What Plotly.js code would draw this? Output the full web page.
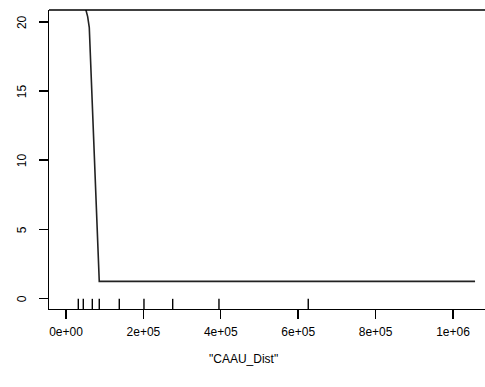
<!DOCTYPE html>
<html>
<head>
<meta charset="utf-8">
<script src="https://cdn.plot.ly/plotly-3.0.1.min.js"></script>
<style>html,body{margin:0;padding:0;background:#fff;}#chart{width:485px;height:387px;}</style>
</head>
<body>
<div id="chart"></div>
<script>
// Partial dependence curve
const caauDist = [0, 21000, 42000, 51700, 56000, 60200, 62800, 67200, 76500, 86000, 200000, 400000, 600000, 800000, 1057000];
const fitted   = [26.5, 23.8, 21.9, 20.9, 20.4, 19.6, 17.8, 15.4, 8.3, 1.22, 1.22, 1.22, 1.22, 1.22, 1.22];
// Rug (deciles of CAAU_Dist)
const rugDeciles = [31800, 44700, 68000, 86000, 137700, 201500, 275700, 395300, 626000];
// Axis ticks
const xTickVals = [0, 200000, 400000, 600000, 800000, 1000000];
const xTickText = ["0e+00", "2e+05", "4e+05", "6e+05", "8e+05", "1e+06"];
const yTickVals = [0, 5, 10, 15, 20];
const yTickText = ["0", "5", "10", "15", "20"];
const xTitle = '"CAAU_Dist"';

const font = {family: 'Liberation Sans, Arial, sans-serif', size: 12, color: '#000'};

const shapes = rugDeciles.map(v => ({
  type: 'line', xref: 'x', yref: 'paper', x0: v, x1: v, y0: 0, y1: 0.034,
  line: {color: '#000', width: 1.4}
}));
shapes.push({type: 'line', xref: 'paper', yref: 'paper', x0: 0, x1: 1, y0: 1, y1: 1,
  line: {color: '#000', width: 1.4}});

const annotations = yTickVals.map((v, i) => ({
  text: yTickText[i], xref: 'paper', yref: 'y', x: -0.062, y: v,
  xanchor: 'center', yanchor: 'middle', textangle: -90, showarrow: false, font: font
}));
annotations.push({
  text: xTitle, xref: 'paper', yref: 'paper', x: 0.445, y: 0,
  yshift: -41, xanchor: 'center', yanchor: 'top', showarrow: false, font: font
});

const trace = {
  x: caauDist, y: fitted, type: 'scatter', mode: 'lines',
  line: {color: '#222', width: 1.6}, hoverinfo: 'skip', cliponaxis: true
};

const layout = {
  width: 485, height: 387,
  margin: {l: 49, r: 0, t: 10, b: 78, pad: 0},
  paper_bgcolor: '#fff', plot_bgcolor: '#fff',
  font: font,
  showlegend: false,
  xaxis: {
    range: [-43900, 1082700], showgrid: false, zeroline: false,
    showline: true, linecolor: '#000', linewidth: 1.4,
    ticks: 'outside', ticklen: 9, tickwidth: 1.4, tickcolor: '#000',
    tickmode: 'array', tickvals: xTickVals, ticktext: xTickText,
    tickfont: font, ticklabelstandoff: 2, fixedrange: true
  },
  yaxis: {
    range: [-0.78, 20.88], showgrid: false, zeroline: false,
    showline: true, linecolor: '#000', linewidth: 1.4,
    ticks: 'outside', ticklen: 9, tickwidth: 1.4, tickcolor: '#000',
    tickmode: 'array', tickvals: yTickVals, ticktext: yTickText,
    showticklabels: false, fixedrange: true
  },
  shapes: shapes,
  annotations: annotations
};

Plotly.newPlot('chart', [trace], layout, {displayModeBar: false, staticPlot: true});
</script>
</body>
</html>
